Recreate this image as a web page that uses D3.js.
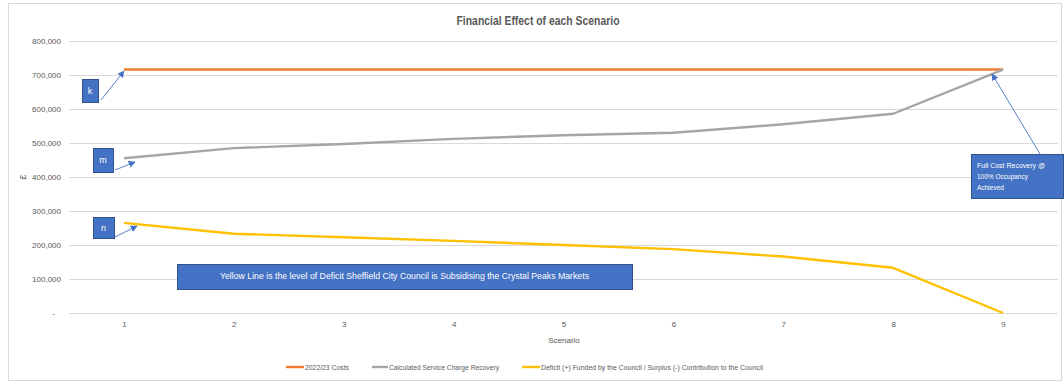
<!DOCTYPE html>
<html>
<head>
<meta charset="utf-8">
<script src="https://cdn.jsdelivr.net/npm/d3@7"></script>
<style>
  html, body { margin: 0; padding: 0; background: #fff; }
  svg { display: block; }
  text { font-family: "Liberation Sans", Arial, sans-serif; }
</style>
</head>
<body>
<svg id="chart" width="1064" height="383"></svg>
<script>
// ---- data ----
const scenarios = ["1", "2", "3", "4", "5", "6", "7", "8", "9"];
const costs = [716000, 716000, 716000, 716000, 716000, 716000, 716000, 716000, 716000];
const recovery = [455000, 485000, 497000, 512000, 523000, 530000, 555000, 586000, 716000];
const deficit = [265000, 233000, 223000, 212000, 200000, 188000, 166000, 133000, 0];
const yTicks = [0, 100000, 200000, 300000, 400000, 500000, 600000, 700000, 800000];
const seriesNames = ["2022/23 Costs", "Calculated Service Charge Recovery",
  "Deficit (+) Funded by the Council / Surplus (-) Contribution to the Council"];
const seriesColors = ["#ED7D31", "#A5A5A5", "#FFC000"];
const titleText = "Financial Effect of each Scenario";
const xTitle = "Scenario";
const yTitle = "£";
const noteYellow = "Yellow Line is the level of Deficit Sheffield City Council is Subsidising the Crystal Peaks Markets";
const noteFull = ["Full Cost Recovery @", "100% Occupancy", "Achieved"];

(function () {
const svg = d3.select("#chart");
const plotLeft = 69, plotRight = 1058, plotTop = 41, plotBottom = 313;

// outer border
svg.append("rect").attr("x", 8.5).attr("y", 3.5).attr("width", 1053).attr("height", 377)
  .attr("fill", "#fff").attr("stroke", "#d9d9d9").attr("stroke-width", 1);

const x = d3.scalePoint().domain(scenarios).range([plotLeft, plotRight]).padding(0.5);
const y = d3.scaleLinear().domain([0, 800000]).range([plotBottom, plotTop]);

// gridlines
svg.append("g").selectAll("line").data(yTicks).join("line")
  .attr("x1", plotLeft).attr("x2", plotRight)
  .attr("y1", d => Math.round(y(d)) + 0.5).attr("y2", d => Math.round(y(d)) + 0.5)
  .attr("stroke", "#d9d9d9").attr("stroke-width", 1);

// y axis labels
const fmt = d3.format(",");
const yAxis = d3.axisLeft(y).tickValues(yTicks).tickSize(0).tickPadding(0)
  .tickFormat(d => d === 0 ? "-" : fmt(d));
const gy = svg.append("g").attr("transform", `translate(${plotLeft - 8},0)`).call(yAxis);
gy.select(".domain").remove();
gy.selectAll("text").attr("fill", "#595959").attr("font-size", "8px")
  .attr("font-family", "Liberation Sans, Arial, sans-serif")
  .attr("dx", d => d === 0 ? -6 : 0);

// x axis labels
const xAxis = d3.axisBottom(x).tickSize(0).tickPadding(0);
const gx = svg.append("g").attr("transform", `translate(0,${plotBottom + 8})`).call(xAxis);
gx.select(".domain").remove();
gx.selectAll("text").attr("fill", "#595959").attr("font-size", "8px")
  .attr("font-family", "Liberation Sans, Arial, sans-serif");

// axis titles
svg.append("text").attr("x", 564).attr("y", 343).attr("text-anchor", "middle")
  .attr("fill", "#595959").attr("font-size", "8px").text(xTitle);
svg.append("text").attr("transform", "translate(26,177) rotate(-90)").attr("text-anchor", "middle")
  .attr("fill", "#595959").attr("font-size", "9px").text(yTitle);

// title
svg.append("text").attr("x", 538).attr("y", 25).attr("text-anchor", "middle")
  .attr("fill", "#595959").attr("font-size", "12.5px").attr("font-weight", "bold")
  .attr("textLength", 163).attr("lengthAdjust", "spacingAndGlyphs").text(titleText);

// lines
const series = [costs, recovery, deficit];
const line = d3.line().x((d, i) => x(scenarios[i])).y(d => y(d));
svg.append("g").selectAll("path").data(series).join("path")
  .attr("d", d => line(d)).attr("fill", "none")
  .attr("stroke", (d, i) => seriesColors[i]).attr("stroke-width", 2.4)
  .attr("stroke-linejoin", "round");

// legend
const legendPos = [{lx: 286, tx: 305, w: 44}, {lx: 372, tx: 389, w: 110}, {lx: 522, tx: 541, w: 222}];
const lg = svg.append("g");
seriesNames.forEach((n, i) => {
  const p = legendPos[i];
  lg.append("line").attr("x1", p.lx).attr("x2", p.tx - 1).attr("y1", 367).attr("y2", 367)
    .attr("stroke", seriesColors[i]).attr("stroke-width", 2.4);
  lg.append("text").attr("x", p.tx).attr("y", 370).attr("fill", "#595959").attr("font-size", "8px")
    .attr("textLength", p.w).attr("lengthAdjust", "spacingAndGlyphs").text(n);
});

// annotations
const defs = svg.append("defs");
defs.append("marker").attr("id", "arr").attr("viewBox", "0 0 10 10").attr("refX", 9).attr("refY", 5)
  .attr("markerWidth", 7).attr("markerHeight", 7).attr("orient", "auto-start-reverse")
  .attr("markerUnits", "userSpaceOnUse")
  .append("path").attr("d", "M0,0 L10,5 L0,10 z").attr("fill", "#4472C4");

const ann = svg.append("g");
function box(x0, y0, w, h) {
  ann.append("rect").attr("x", x0 + 0.5).attr("y", y0 + 0.5).attr("width", w).attr("height", h)
    .attr("fill", "#4472C4").attr("stroke", "#2F528F").attr("stroke-width", 1);
}
function arrow(x1, y1, x2, y2) {
  ann.append("line").attr("x1", x1).attr("y1", y1).attr("x2", x2).attr("y2", y2)
    .attr("stroke", "#4472C4").attr("stroke-width", 0.9).attr("marker-end", "url(#arr)");
}
function label(tx, ty, t, size, anchor) {
  ann.append("text").attr("x", tx).attr("y", ty).attr("fill", "#fff").attr("font-size", size)
    .attr("text-anchor", anchor || "middle").text(t);
}
box(82, 79, 16, 23); label(90, 94, "k", "9px"); arrow(101, 100, 124, 71);
box(93, 148, 20, 24); label(103, 163, "m", "9px"); arrow(115, 170, 135, 162);
box(93, 217, 21, 21); label(103.5, 231, "n", "9px"); arrow(115, 237, 137, 226);
box(177, 264, 455, 25);
ann.append("text").attr("x", 404.5).attr("y", 279).attr("fill", "#fff").attr("font-size", "9.5px")
  .attr("text-anchor", "middle").attr("textLength", 369).attr("lengthAdjust", "spacingAndGlyphs")
  .text(noteYellow);
box(971, 154, 92, 44);
arrow(1040, 154, 992, 74);
const widths = [68, 51, 27];
noteFull.forEach((t, i) => {
  ann.append("text").attr("x", 977).attr("y", 168 + i * 11).attr("fill", "#fff").attr("font-size", "8px")
    .attr("textLength", widths[i]).attr("lengthAdjust", "spacingAndGlyphs").text(t);
});
})();
</script>
</body>
</html>
